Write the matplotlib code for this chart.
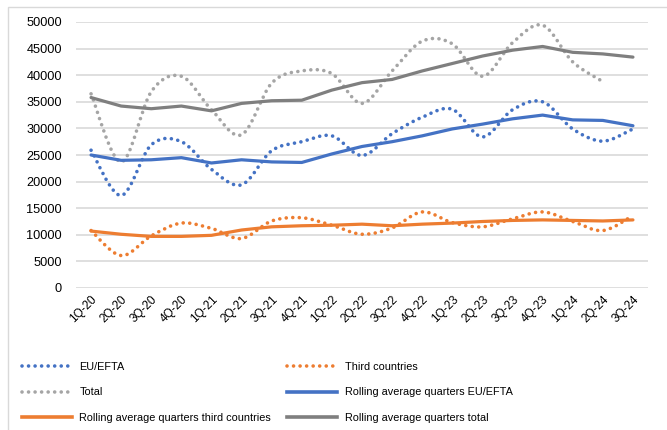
import numpy as np
import matplotlib
matplotlib.use("Agg")
import matplotlib.pyplot as plt
from matplotlib.path import Path
from matplotlib.patches import PathPatch, Rectangle
from matplotlib.lines import Line2D

# quarters 2020-2024
quarters = ['1Q-20', '2Q-20', '3Q-20', '4Q-20', '1Q-21', '2Q-21', '3Q-21', '4Q-21',
            '1Q-22', '2Q-22', '3Q-22', '4Q-22', '1Q-23', '2Q-23', '3Q-23', '4Q-23',
            '1Q-24', '2Q-24', '3Q-24']

eu_efta = [25900, 17400, 26900, 27500, 22300, 19400, 25800, 27500, 28600, 24900,
           29000, 32100, 33600, 28400, 33500, 35000, 29900, 27600, 29900]
third = [10800, 6100, 9800, 12200, 11200, 9300, 12600, 13200, 11800, 10100,
         11300, 14300, 12300, 11500, 13000, 14300, 12500, 10800, 13600]
total = [36500, 23700, 36900, 39800, 33500, 28800, 38500, 40800, 40300, 34700,
         40800, 46400, 45900, 39800, 46100, 49400, 42500, 38800]

roll_eu = [25000, 24000, 24100, 24500, 23500, 24100, 23700, 23600, 25200, 26600,
           27500, 28600, 29900, 30800, 31800, 32500, 31600, 31500, 30500]
roll_third = [10700, 10100, 9700, 9700, 9900, 10900, 11500, 11700, 11800, 12000,
              11700, 12000, 12200, 12500, 12700, 12800, 12700, 12600, 12800]
roll_total = [35800, 34200, 33700, 34200, 33300, 34700, 35200, 35300, 37200, 38600,
              39200, 40800, 42200, 43600, 44700, 45400, 44300, 44000, 43400]

BLUE = '#4472C4'
ORANGE = '#ED7D31'
LGREY = '#A5A5A5'
DGREY = '#7F7F7F'

plt.rcParams['font.family'] = ['Liberation Sans', 'DejaVu Sans']


def smooth_path(values):
    # bezier path through the points, like a spreadsheet "smoothed line"
    x = np.arange(len(values), dtype=float)
    y = np.asarray(values, dtype=float)
    pts = np.column_stack([x, y])
    n = len(pts)
    verts = [pts[0]]
    codes = [Path.MOVETO]
    for i in range(n - 1):
        p_prev = pts[i - 1] if i > 0 else pts[i]
        p_next2 = pts[i + 2] if i + 2 < n else pts[i + 1]
        c1 = pts[i] + (pts[i + 1] - p_prev) / 6.0
        c2 = pts[i + 1] - (p_next2 - pts[i]) / 6.0
        verts += [c1, c2, pts[i + 1]]
        codes += [Path.CURVE4] * 3
    return Path(verts, codes)


dot_style = (0, (0.01, 1.8))

fig = plt.figure(figsize=(6.67, 4.30), dpi=100)
ax = fig.add_axes([76 / 667, 1 - 288 / 430, (648 - 76) / 667, (288 - 22) / 430])

for vals, col in [(eu_efta, BLUE), (third, ORANGE), (total, LGREY)]:
    patch = PathPatch(smooth_path(vals), facecolor='none', edgecolor=col,
                      linewidth=2.6, linestyle=dot_style, capstyle='round', zorder=3)
    ax.add_patch(patch)

x = np.arange(len(quarters))
ax.plot(x, roll_eu, color=BLUE, lw=2.3, zorder=4, solid_capstyle='round')
ax.plot(x, roll_third, color=ORANGE, lw=2.3, zorder=4, solid_capstyle='round')
ax.plot(x, roll_total, color=DGREY, lw=2.3, zorder=4, solid_capstyle='round')

ax.set_xlim(-0.5, len(quarters) - 0.5)
ax.set_ylim(0, 50000)
ax.set_yticks(np.arange(0, 50001, 5000))
ax.set_xticks(x)
ax.set_xticklabels(quarters, rotation=45, ha='right', rotation_mode='anchor',
                   fontsize=8.5)
for lab in ax.get_yticklabels():
    lab.set_fontsize(9.2)
ax.tick_params(length=0, pad=10)
ax.tick_params(axis='x', pad=4)
ax.grid(axis='y', color='#D9D9D9', lw=1.2)
ax.set_axisbelow(True)
for s in ax.spines.values():
    s.set_visible(False)

# legend: two columns, filled column by column
handles = [
    Line2D([], [], color=BLUE, lw=2.6, ls=dot_style, dash_capstyle='round'),
    Line2D([], [], color=LGREY, lw=2.6, ls=dot_style, dash_capstyle='round'),
    Line2D([], [], color=ORANGE, lw=2.6),
    Line2D([], [], color=ORANGE, lw=2.6, ls=dot_style, dash_capstyle='round'),
    Line2D([], [], color=BLUE, lw=2.6),
    Line2D([], [], color=DGREY, lw=2.6),
]
labels = ['EU/EFTA', 'Total', 'Rolling average quarters third countries',
          'Third countries', 'Rolling average quarters EU/EFTA',
          'Rolling average quarters total']
fig.legend(handles, labels, ncol=2, loc='upper left',
           bbox_to_anchor=(22 / 667, 1 - 362 / 430), frameon=False,
           fontsize=7.8, handlelength=4.6, handletextpad=0.7,
           columnspacing=1.5, labelspacing=1.42, borderpad=0, borderaxespad=0)

# chart area border
fig.add_artist(Rectangle((8 / 667, -0.05), 1.0, 1 - 7 / 430 + 0.05,
                         transform=fig.transFigure, fill=False,
                         edgecolor='#D9D9D9', lw=1.0))

fig.savefig('out.png', dpi=100)
